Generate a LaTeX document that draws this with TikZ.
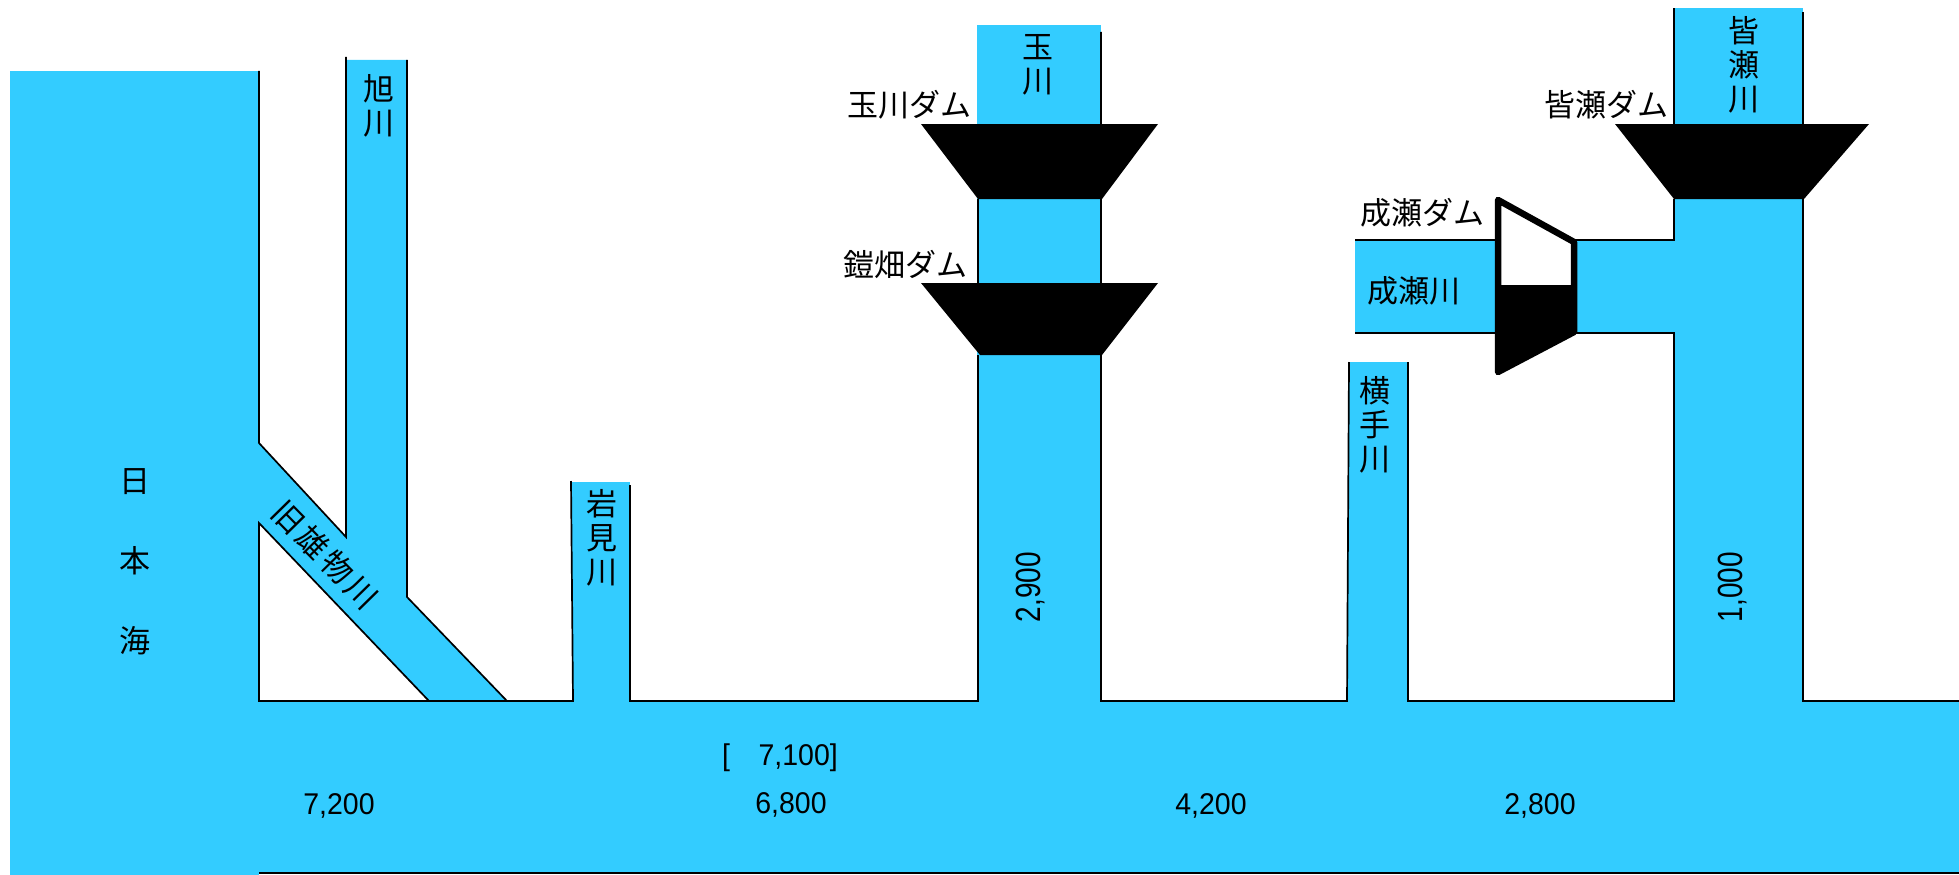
\documentclass[tikz,border=0pt]{standalone}
\usepackage{fontspec}
\setmainfont{Liberation Sans}
\newfontfamily\jp{Noto Sans CJK JP}
\definecolor{river}{HTML}{33CCFF}
\begin{document}
\begin{tikzpicture}[x=1pt,y=-1pt,
  water/.style={fill=river,draw=none},
  edge/.style={draw=black,line width=1.7pt,line join=miter},
  damfill/.style={fill=black,draw=none},
  jlab/.style={font=\jp\fontsize{31}{34}\selectfont,inner sep=0pt,align=center},
  numlab/.style={font=\fontsize{30}{34}\selectfont,inner sep=0pt},
  rotnum/.style={font=\fontsize{35}{38}\selectfont,inner sep=0pt,rotate=90}]
\useasboundingbox (0,0) rectangle (1959,875);
% ---------- water ----------
\fill[water] (10,71) rectangle (259,875);
\fill[water] (259,701) rectangle (1959,873);
\fill[water] (259,443) -- (346,537) -- (346,60) -- (407,60) -- (407,597)
   -- (507,701) -- (429,701) -- (259,523) -- cycle;
\fill[water] (572,482) rectangle (630,701);
\fill[water] (977,25) rectangle (1101,701);
\fill[water] (1349,362) -- (1407,362) -- (1407,701) -- (1347,701) -- cycle;
\fill[water] (1355,240) rectangle (1674,333);
\fill[water] (1674,8) rectangle (1803,701);
% ---------- banks ----------
\draw[edge] (259,71) -- (259,443) -- (346,537) -- (346,57);
\draw[edge] (407,60) -- (407,597) -- (507,701);
\draw[edge] (429,701) -- (259,523) -- (259,701) -- (573,701) -- (571,481);
\draw[edge] (630,485) -- (630,701) -- (978,701) -- (978,355);
\draw[edge] (978,283) -- (978,199);
\draw[edge] (1101,32) -- (1101,701) -- (1347,701) -- (1349,362);
\draw[edge] (1408,362) -- (1408,701) -- (1674,701) -- (1674,333) -- (1355,333);
\draw[edge] (1355,240) -- (1674,240) -- (1674,199);
\draw[edge] (1674,124) -- (1674,8);
\draw[edge] (1803,12) -- (1803,701) -- (1959,701);
\draw[edge] (259,873) -- (1959,873);
% ---------- dams ----------
\fill[damfill] (921,124) -- (1158,124) -- (1102,199) -- (978,199) -- cycle;
\fill[damfill] (921,283) -- (1158,283) -- (1102,355) -- (980,355) -- cycle;
\fill[damfill] (1615,124) -- (1869,124) -- (1804,199) -- (1674,199) -- cycle;
\fill[white] (1498,200) -- (1574,242) -- (1574,332) -- (1498,372) -- cycle;
\begin{scope}
  \clip (1490,285) rectangle (1590,380);
  \fill[damfill] (1498,200) -- (1574,242) -- (1574,332) -- (1498,372) -- cycle;
\end{scope}
\draw[line width=6.5pt,line join=round] (1498,200) -- (1574,242) -- (1574,332) -- (1498,372) -- cycle;
% ---------- labels ----------
\node[jlab,font=\jp\fontsize{31}{80}\selectfont] (sea) at (135,562) {日\\本\\海};
\node[jlab] (asahi) at (379,105.5) {旭\\川};
\node[jlab,font=\jp\fontsize{31}{36}\selectfont,rotate=-45.5] (kyuomono) at (325,555) {旧\hspace{4pt}雄\hspace{4pt}物\hspace{4pt}川};
\node[jlab] (iwami) at (602,538) {岩\\見\\川};
\node[jlab] (tama) at (1038,65) {玉\\川};
\node[jlab,anchor=east] (tamadam) at (972,105) {玉川ダム};
\node[jlab,anchor=east] (yoroidam) at (968,264) {鎧畑ダム};
\node[jlab] (yokote) at (1375,425) {横\\手\\川};
\node[jlab] (naruse) at (1414,291) {成瀬川};
\node[jlab] (narusedam) at (1422,213) {成瀬ダム};
\node[jlab] (minase) at (1744,65) {皆\\瀬\\川};
\node[jlab,anchor=east] (minasedam) at (1669,105) {皆瀬ダム};
\node[numlab] (q7200) at (339,806) {\scalebox{0.95}[1]{7,200}};
\node[numlab] (q7100) at (780,758) {\scalebox{0.95}[1]{[\hspace{30pt}7,100]}};
\node[numlab] (q6800) at (791,805) {\scalebox{0.95}[1]{6,800}};
\node[numlab] (q4200) at (1211,806) {\scalebox{0.95}[1]{4,200}};
\node[numlab] (q2800) at (1540,806) {\scalebox{0.95}[1]{2,800}};
\node[rotnum] (q2900) at (1031,587) {\scalebox{0.8}[1]{2,900}};
\node[rotnum] (q1000) at (1732,587) {\scalebox{0.8}[1]{1,000}};
\end{tikzpicture}
\end{document}
